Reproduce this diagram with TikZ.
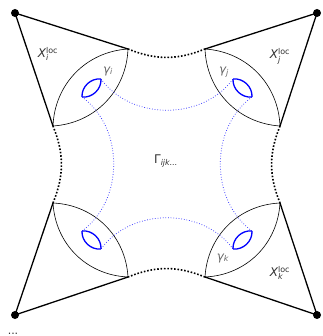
\documentclass[tikz,border=0pt]{standalone}
\usepackage{fontspec}
\setmainfont{DejaVu Sans}
\tikzset{
  edgeline/.style={line width=1.3pt, line cap=round},
  lensline/.style={line width=0.6pt},
  bluelens/.style={draw=blue, line width=1.3pt},
  bluedots/.style={draw=blue!80, line width=0.75pt, dash pattern=on 0.75pt off 1.9pt},
  blackdots/.style={line width=1.6pt, dash pattern=on 1.6pt off 1.8pt},
  lbl/.style={inner sep=0pt, text=black!80, font=\fontsize{12}{14}\selectfont},
  glbl/.style={inner sep=0pt, text=black!60, font=\fontsize{12}{14}\selectfont},
}
\newcommand{\scr}[1]{\hbox{\fontsize{8}{8}\selectfont #1}}
\begin{document}
\begin{tikzpicture}[x=1bp,y=1bp]
\useasboundingbox (0,0) rectangle (323,336);
% outer dots
\coordinate (TL) at (15,323);
\coordinate (TR) at (317,323);
\coordinate (BL) at (15,21);
\coordinate (BR) at (317,21);
% corners
\coordinate (a1) at (128,287);
\coordinate (a2) at (53,210);
\coordinate (b1) at (205,287);
\coordinate (b2) at (280,210);
\coordinate (c1) at (53,133);
\coordinate (c2) at (128,59);
\coordinate (d1) at (280,133);
\coordinate (d2) at (205,59);
% blue lens ends
\coordinate (p1) at (101,257);
\coordinate (p2) at (82,239);
\coordinate (q1) at (233,257);
\coordinate (q2) at (252,239);
\coordinate (r1) at (82,105);
\coordinate (r2) at (101,87);
\coordinate (s1) at (252,105);
\coordinate (s2) at (233,87);

% triangles
\draw[edgeline] (a1) -- (TL) -- (a2);
\draw[edgeline] (b1) -- (TR) -- (b2);
\draw[edgeline] (c2) -- (BL) -- (c1);
\draw[edgeline] (d2) -- (BR) -- (d1);
\foreach \p in {TL,TR,BL,BR} \fill (\p) circle (4bp);

% big lenses
\draw[lensline] (a1) to[bend left=42] (a2);
\draw[lensline] (a1) to[bend right=42] (a2);
\draw[lensline] (b1) to[bend left=42] (b2);
\draw[lensline] (b1) to[bend right=42] (b2);
\draw[lensline] (c1) to[bend left=42] (c2);
\draw[lensline] (c1) to[bend right=42] (c2);
\draw[lensline] (d1) to[bend left=42] (d2);
\draw[lensline] (d1) to[bend right=42] (d2);

% black dotted boundary
\draw[blackdots] (a1) to[bend right=22] (b1);
\draw[blackdots] (b2) to[bend right=22] (d1);
\draw[blackdots] (d2) to[bend right=22] (c2);
\draw[blackdots] (c1) to[bend right=22] (a2);

% blue dotted arcs
\draw[bluedots] (p1) to[bend right=54] (q1);
\draw[bluedots] (q2) to[bend right=54] (s1);
\draw[bluedots] (s2) to[bend right=54] (r2);
\draw[bluedots] (r1) to[bend right=54] (p2);

% blue small lenses
\draw[bluelens] (p1) to[bend left=50] (p2);
\draw[bluelens] (p1) to[bend right=50] (p2);
\draw[bluelens] (q1) to[bend left=50] (q2);
\draw[bluelens] (q1) to[bend right=50] (q2);
\draw[bluelens] (r1) to[bend left=50] (r2);
\draw[bluelens] (r1) to[bend right=50] (r2);
\draw[bluelens] (s1) to[bend left=50] (s2);
\draw[bluelens] (s1) to[bend right=50] (s2);

% labels
\node[lbl] (Xi) at (48,282) {{\itshape X}$^{\scr{loc}}_{\scr{\itshape i}}$};
\node[lbl] (Xj) at (280,280) {{\itshape X}$^{\scr{loc}}_{\scr{\itshape j}}$};
\node[lbl] (Xk) at (280,63) {{\itshape X}$^{\scr{loc}}_{\scr{\itshape k}}$};
\node[glbl] (gi) at (108,265) {{\itshape γ}$_{\scr{\itshape i}}$};
\node[glbl] (gj) at (224,264) {{\itshape γ}$_{\scr{\itshape j}}$};
\node[glbl] (gk) at (223,78) {{\itshape γ}$_{\scr{\itshape k}}$};
\node[lbl] (G) at (166,175) {Γ$_{\scr{\itshape ijk...}}$};
\node[lbl, font=\fontsize{11}{11}\selectfont, anchor=south] (dd) at (13,1.5) {...};
\end{tikzpicture}
\end{document}
